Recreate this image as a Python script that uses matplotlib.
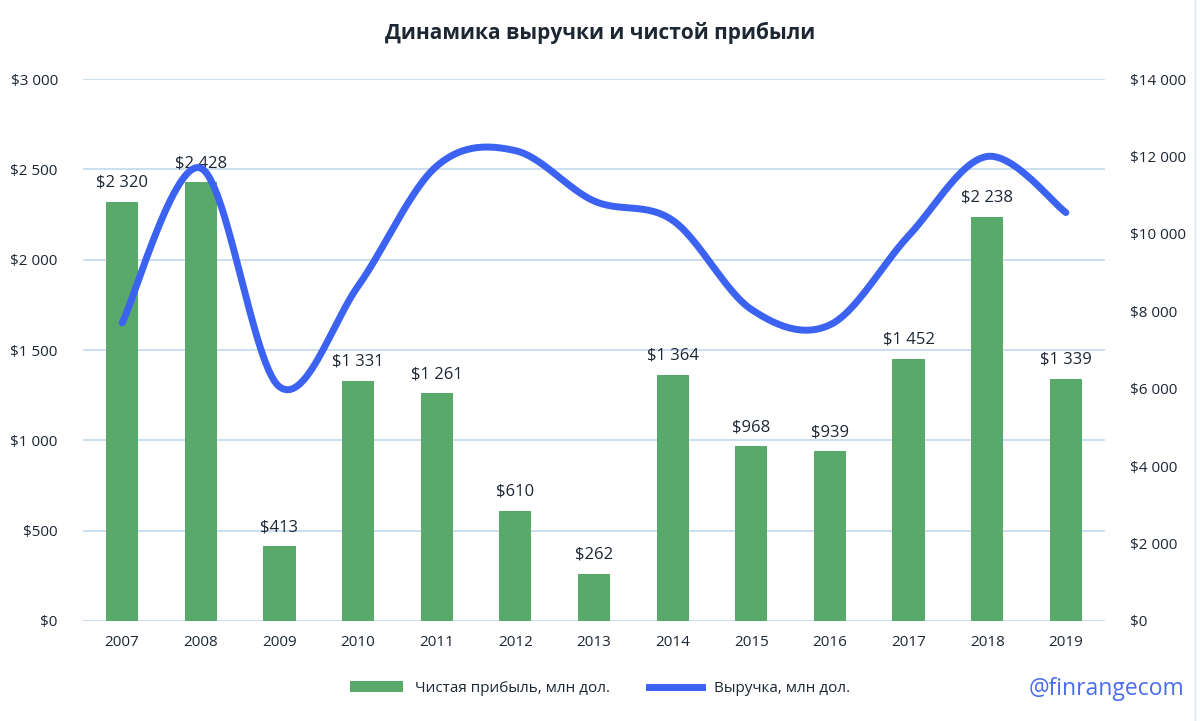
import matplotlib.pyplot as plt
import numpy as np
from matplotlib.lines import Line2D
from matplotlib.patches import Patch

plt.rcParams['font.family'] = ['Open Sans', 'DejaVu Sans']

# данные
years = ['2007', '2008', '2009', '2010', '2011', '2012', '2013',
         '2014', '2015', '2016', '2017', '2018', '2019']
net_income = [2320, 2428, 413, 1331, 1261, 610, 262, 1364, 968, 939, 1452, 2238, 1339]
revenue = [7700, 11700, 6050, 8650, 11750, 12150, 10850, 10350, 8050, 7650, 9950, 12000, 10550]

bar_color = '#59a96b'
line_color = '#3b62f0'
text_color = '#1c2733'


def fmt(v):
    return '$' + f'{v:,.0f}'.replace(',', ' ')


def smooth(x, y, n=30):
    # сглаживание как в Excel (Catmull-Rom через кривые Безье)
    x = np.asarray(x, float)
    y = np.asarray(y, float)
    px, py = [], []
    for i in range(len(x) - 1):
        x0, y0 = (x[i - 1], y[i - 1]) if i > 0 else (x[i], y[i])
        x3, y3 = (x[i + 2], y[i + 2]) if i + 2 < len(x) else (x[i + 1], y[i + 1])
        c1x = x[i] + (x[i + 1] - x0) / 6
        c1y = y[i] + (y[i + 1] - y0) / 6
        c2x = x[i + 1] - (x3 - x[i]) / 6
        c2y = y[i + 1] - (y3 - y[i]) / 6
        t = np.linspace(0, 1, n)
        bx = (1 - t)**3 * x[i] + 3 * (1 - t)**2 * t * c1x + 3 * (1 - t) * t**2 * c2x + t**3 * x[i + 1]
        by = (1 - t)**3 * y[i] + 3 * (1 - t)**2 * t * c1y + 3 * (1 - t) * t**2 * c2y + t**3 * y[i + 1]
        px.extend(bx)
        py.extend(by)
    return np.array(px), np.array(py)


fig = plt.figure(figsize=(12, 7.21), dpi=100)
ax1 = fig.add_axes([0.069, 0.1387, 0.852, 0.7517])
x = np.arange(len(years))

ax1.bar(x, net_income, width=0.41, color=bar_color, zorder=2)
ax1.set_ylim(0, 3000)
ax1.set_xlim(-0.5, len(years) - 0.5)
ax1.set_yticks(np.arange(0, 3001, 500))
ax1.set_yticklabels([fmt(v) for v in np.arange(0, 3001, 500)])
ax1.set_xticks(x)
ax1.set_xticklabels(years)
ax1.grid(axis='y', color='#c6dcf0', linewidth=1.3, zorder=0)
ax1.set_axisbelow(True)
for s in ax1.spines.values():
    s.set_visible(False)
ax1.tick_params(length=0, labelsize=11, colors=text_color, pad=10)
ax1.tick_params(axis='y', pad=18)

for i, v in enumerate(net_income):
    ax1.annotate(fmt(v), (i, v), xytext=(0, 8), textcoords='offset points',
                 ha='center', va='bottom', fontsize=12, color=text_color, zorder=5)

ax2 = ax1.twinx()
sx, sy = smooth(x, revenue)
ax2.plot(sx, sy, color=line_color, linewidth=5, solid_capstyle='round', zorder=3)
ax2.set_ylim(0, 14000)
ax2.set_yticks(np.arange(0, 14001, 2000))
ax2.set_yticklabels([fmt(v) for v in np.arange(0, 14001, 2000)])
for s in ax2.spines.values():
    s.set_visible(False)
ax2.tick_params(length=0, labelsize=11, colors=text_color, pad=18)

fig.text(0.5, 0.955, 'Динамика выручки и чистой прибыли', ha='center', va='center',
         fontsize=15, fontweight='bold', color=text_color)

handles = [Patch(facecolor=bar_color, label='Чистая прибыль, млн дол.'),
           Line2D([0], [0], color=line_color, linewidth=5, label='Выручка, млн дол.')]
fig.legend(handles=handles, loc='center', bbox_to_anchor=(0.5, 0.045), ncol=2,
           frameon=False, fontsize=11, handlelength=3.5, columnspacing=2.5,
           labelcolor=text_color)

fig.text(0.987, 0.045, '@finrangecom', ha='right', va='center', fontsize=16.5,
         color='#4a6cf0')

fig.add_artist(Line2D([0.996, 0.996], [0, 1], color='#dce6ef', linewidth=1))

fig.savefig('out.png', dpi=100, facecolor='white')
